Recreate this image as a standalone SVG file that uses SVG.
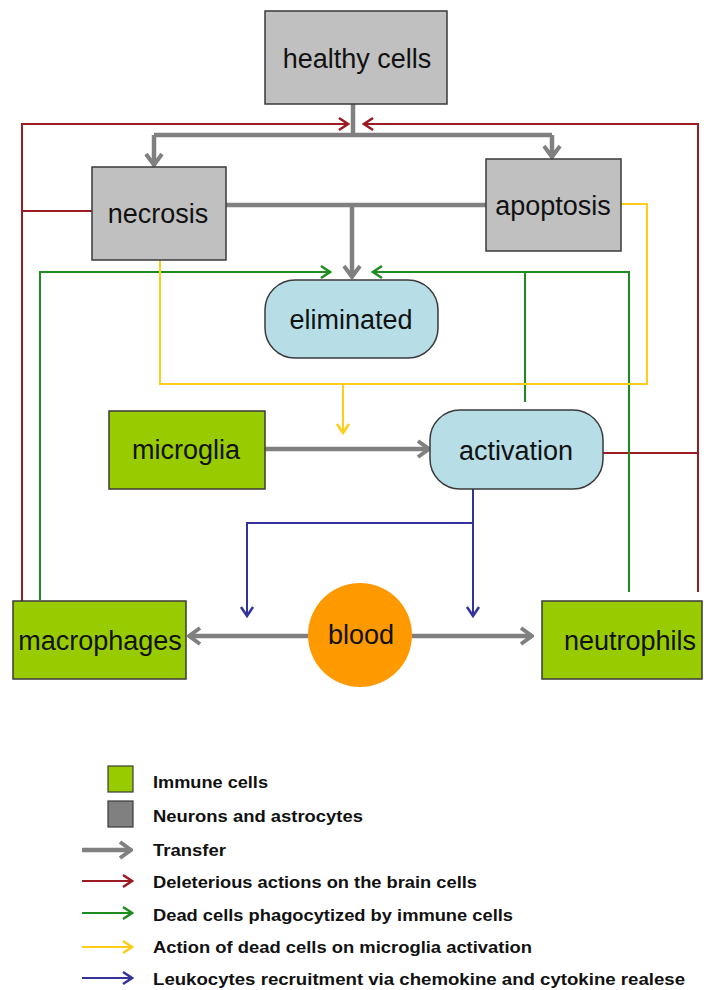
<svg xmlns="http://www.w3.org/2000/svg" width="704" height="990" viewBox="0 0 704 990">
<style>
.node{stroke:#3a3a3a;stroke-width:1.5}
.gray{fill:#C0C0C0}
.green{fill:#99CC00}
.blue{fill:#B7DEE6}
.lbl{font-family:"Liberation Sans",Arial,sans-serif;font-size:27px;fill:#111;text-anchor:middle}
.leg{font-family:"Liberation Sans",Arial,sans-serif;font-size:17px;font-weight:bold;fill:#111}
.t{fill:none;stroke:#808080;stroke-width:4.5}
.r{fill:none;stroke:#9B1B23;stroke-width:2}
.g{fill:none;stroke:#1E8C1E;stroke-width:2}
.y{fill:none;stroke:#FFCC1A;stroke-width:2}
.b{fill:none;stroke:#333399;stroke-width:2}
</style>
<defs>
<marker id="mt" markerUnits="userSpaceOnUse" viewBox="-14 -10 16 20" refX="0" refY="0" markerWidth="16" markerHeight="20" orient="auto"><path d="M-11,-8 L0,0 L-11,8" fill="none" stroke="#808080" stroke-width="4"/></marker>
<marker id="mr" markerUnits="userSpaceOnUse" viewBox="-12 -8 14 16" refX="0" refY="0" markerWidth="14" markerHeight="16" orient="auto"><path d="M-9,-6 L0,0 L-9,6" fill="none" stroke="#9B1B23" stroke-width="2.5"/></marker>
<marker id="mg" markerUnits="userSpaceOnUse" viewBox="-12 -8 14 16" refX="0" refY="0" markerWidth="14" markerHeight="16" orient="auto"><path d="M-9,-6 L0,0 L-9,6" fill="none" stroke="#1E8C1E" stroke-width="2.5"/></marker>
<marker id="my" markerUnits="userSpaceOnUse" viewBox="-12 -8 14 16" refX="0" refY="0" markerWidth="14" markerHeight="16" orient="auto"><path d="M-9,-6 L0,0 L-9,6" fill="none" stroke="#FFCC1A" stroke-width="2.5"/></marker>
<marker id="mb" markerUnits="userSpaceOnUse" viewBox="-12 -8 14 16" refX="0" refY="0" markerWidth="14" markerHeight="16" orient="auto"><path d="M-9,-6 L0,0 L-9,6" fill="none" stroke="#333399" stroke-width="2.5"/></marker>
</defs>
<rect width="704" height="990" fill="#fff"/>

<g id="connectors">
<!-- transfer (gray) -->
<path class="t" d="M353,104 V135"/>
<path class="t" d="M154,135 H552"/>
<path class="t" d="M154,135 V165" marker-end="url(#mt)"/>
<path class="t" d="M552,135 V157" marker-end="url(#mt)"/>
<path class="t" d="M226,205 H486"/>
<path class="t" d="M352,205 V277" marker-end="url(#mt)"/>
<path class="t" d="M265,449 H429" marker-end="url(#mt)"/>
<path class="t" d="M308,636 H189" marker-end="url(#mt)"/>
<path class="t" d="M412,636 H532" marker-end="url(#mt)"/>
<!-- deleterious (red) -->
<path class="r" d="M22,601 V124 H348" marker-end="url(#mr)"/>
<path class="r" d="M92,211 H22"/>
<path class="r" d="M698,592 V124 H364" marker-end="url(#mr)"/>
<path class="r" d="M603,453 H698"/>
<!-- phagocytosis (green) -->
<path class="g" d="M40,600 V272 H330" marker-end="url(#mg)"/>
<path class="g" d="M629,592 V272 H373" marker-end="url(#mg)"/>
<path class="g" d="M525,272 V402"/>
<!-- microglia activation (yellow) -->
<path class="y" d="M160,260 V384 H647 V204 H621"/>
<path class="y" d="M343,384 V433" marker-end="url(#my)"/>
<!-- recruitment (blue) -->
<path class="b" d="M473,489 V616" marker-end="url(#mb)"/>
<path class="b" d="M473,523 H247 V616" marker-end="url(#mb)"/>
</g>

<g id="healthy"><rect class="node gray" x="265" y="11" width="182" height="93"/><text class="lbl" x="357" y="68">healthy cells</text></g>
<g id="necrosis"><rect class="node gray" x="92" y="167" width="134" height="93"/><text class="lbl" x="158" y="223">necrosis</text></g>
<g id="apoptosis"><rect class="node gray" x="486" y="159" width="135" height="92"/><text class="lbl" x="553" y="215">apoptosis</text></g>
<g id="eliminated"><rect class="node blue" x="265" y="280" width="173" height="78" rx="30"/><text class="lbl" x="351" y="329">eliminated</text></g>
<g id="microglia"><rect class="node green" x="109" y="411" width="156" height="78"/><text class="lbl" x="186" y="459">microglia</text></g>
<g id="activation"><rect class="node blue" x="430" y="410" width="173" height="79" rx="30"/><text class="lbl" x="516" y="460">activation</text></g>
<g id="macrophages"><rect class="node green" x="13" y="601" width="173" height="78"/><text class="lbl" x="100" y="650">macrophages</text></g>
<g id="blood"><ellipse cx="360" cy="635" rx="52" ry="52" fill="#FF9900"/><text class="lbl" x="361" y="644">blood</text></g>
<g id="neutrophils"><rect class="node green" x="542" y="601" width="160" height="78"/><text class="lbl" x="630" y="650">neutrophils</text></g>

<g id="legend">
<rect x="108" y="766" width="25" height="26" fill="#99CC00" stroke="#3a3a3a" stroke-width="1.2"/>
<rect x="108" y="801" width="25" height="26" fill="#808080" stroke="#3a3a3a" stroke-width="1.2"/>
<path d="M82,850 H131" stroke="#808080" stroke-width="4.5" fill="none" marker-end="url(#mt)"/>
<path d="M82,881 H132" class="r" marker-end="url(#mr)"/>
<path d="M82,913 H132" class="g" marker-end="url(#mg)"/>
<path d="M82,947 H132" class="y" marker-end="url(#my)"/>
<path d="M82,978 H132" class="b" marker-end="url(#mb)"/>
<text class="leg" x="153" y="788" textLength="115" lengthAdjust="spacingAndGlyphs">Immune cells</text>
<text class="leg" x="153" y="822" textLength="210" lengthAdjust="spacingAndGlyphs">Neurons and astrocytes</text>
<text class="leg" x="153" y="856" textLength="73" lengthAdjust="spacingAndGlyphs">Transfer</text>
<text class="leg" x="153" y="888" textLength="324" lengthAdjust="spacingAndGlyphs">Deleterious actions on the brain cells</text>
<text class="leg" x="153" y="921" textLength="360" lengthAdjust="spacingAndGlyphs">Dead cells phagocytized by immune cells</text>
<text class="leg" x="153" y="953" textLength="379" lengthAdjust="spacingAndGlyphs">Action of dead cells on microglia activation</text>
<text class="leg" x="153" y="985" textLength="532" lengthAdjust="spacingAndGlyphs">Leukocytes recruitment via chemokine and cytokine realese</text>
</g>
</svg>
